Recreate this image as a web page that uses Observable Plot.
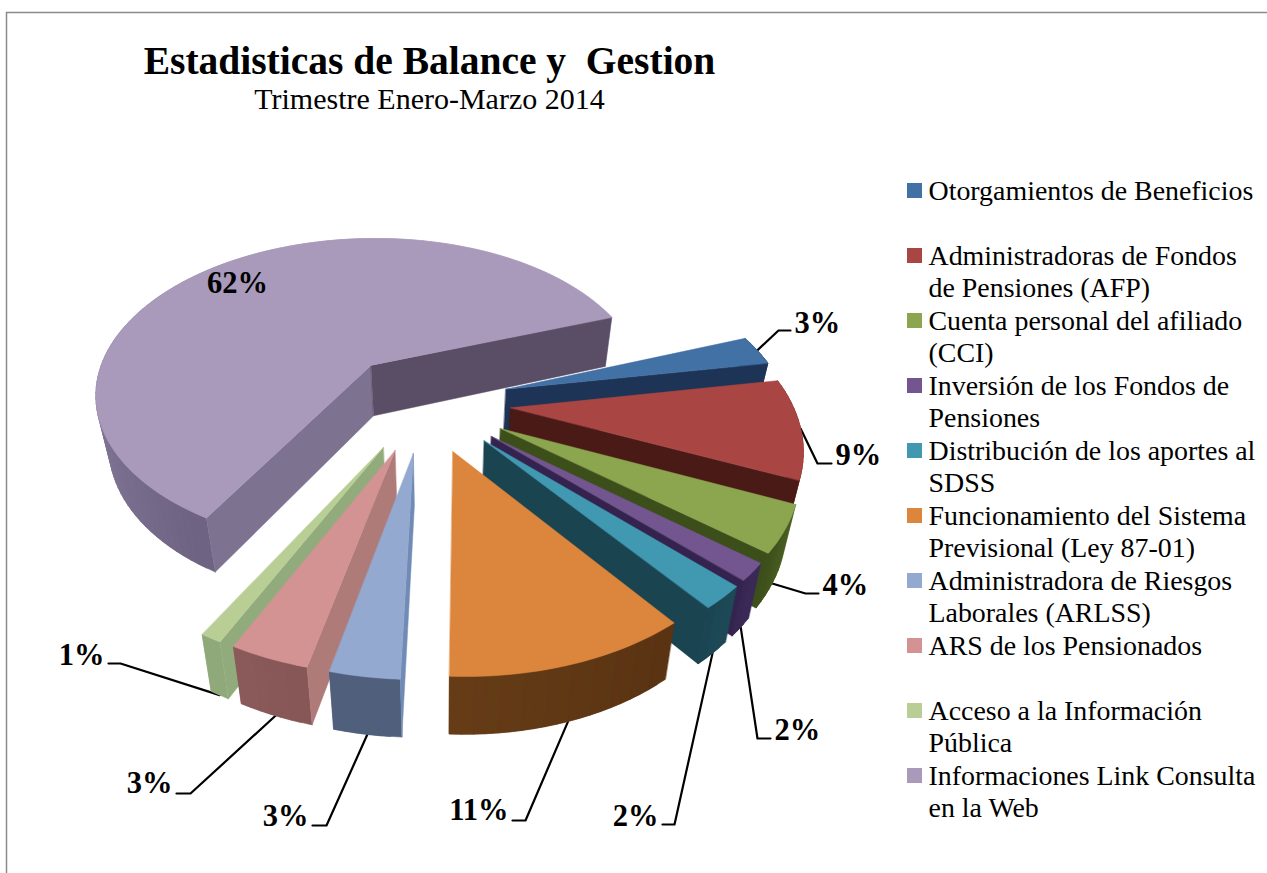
<!DOCTYPE html>
<html lang="es">
<head>
<meta charset="utf-8">
<script src="https://cdn.jsdelivr.net/npm/d3@7"></script>
<script src="https://cdn.jsdelivr.net/npm/@observablehq/plot@0.6"></script>
<style>
html,body{margin:0;padding:0;background:#fff;overflow:hidden}
svg{display:block}
</style>
</head>
<body>
<div id="chart"></div>
<script>
// ---- data ----
const titleText = "Estadisticas de Balance y\u00a0 Gestion";
const subtitleText = "Trimestre Enero-Marzo 2014";
const categories = [
  "Otorgamientos de Beneficios",
  "Administradoras de Fondos\nde Pensiones (AFP)",
  "Cuenta personal del afiliado\n(CCI)",
  "Inversión de los Fondos de\nPensiones",
  "Distribución de los aportes al\nSDSS",
  "Funcionamiento del Sistema\nPrevisional (Ley 87-01)",
  "Administradora de Riesgos\nLaborales (ARLSS)",
  "ARS de los Pensionados",
  "Acceso a la Información\nPública",
  "Informaciones Link Consulta\nen la Web"
];
// slice shares
const values = [2.83, 9.39, 4.31, 1.61, 2.14, 10.97, 3.11, 3.56, 0.97, 61.11];
// the printed data labels
const percentLabels = ["3%", "9%", "4%", "2%", "2%", "11%", "3%", "3%", "1%", "62%"];

// ---- colours ----
const topColors  = ["#4271a6","#a94643","#8ca64f","#73568f","#4099b0","#dc853c","#93a9d0","#d29392","#b8ce94","#a99abc"];
const wallColors = ["#1d3457","#4a1a16","#3c4f1b","#35234f","#1b4451","#5c3614","#708cb6","#ae7b78","#92ab7d","#7d7290"];
const wallColors2 = {9: "#5a4e66"};
const rimFrom    = ["#1d3457","#7c2f2c","#4a5e22","#3a2857","#1d4856","#5a3313","#4f5f7c","#875757","#8fa97b","#6e6383"];
const rimTo      = ["#1d3457","#7c2f2c","#3c4f1b","#35234f","#1b4451","#663d16","#4f5f7c","#8a5b5a","#8fa97b","#d9cbe8"];

// ---- 3-D pie projection (world unit = pie radius) ----
const startAngle = 20, explode = 0.304;
const vanishX = 400, horizonY = -482, depthK = 4802, spreadK = 1530;
const centerX = 0.086, centerV = 5.437;
const rad = d => d * Math.PI / 180;
const project = (X, V) => [vanishX + spreadK * X / V, horizonY + depthK / V];
const lower = ([x, y]) => [440 + (x - 440) * 0.962, y + 30 + 0.024 * (y - horizonY)];

// slices: angles run clockwise from the start angle
let running = startAngle;
const total = d3.sum(values);
const slices = values.map((v, i) => {
  const a0 = running, a1 = running - v / total * 360;
  running = a1;
  const mid = rad((a0 + a1) / 2);
  return {i, v, a0, a1, ax: centerX + explode * Math.cos(mid), av: centerV + explode * Math.sin(mid)};
});
const rimPoint = (s, deg) => project(s.ax + Math.cos(rad(deg)), s.av + Math.sin(rad(deg)));
const apexPoint = s => project(s.ax, s.av);
const arcAngles = (a0, a1, step) => {
  const n = Math.max(2, Math.ceil(Math.abs(a0 - a1) / step));
  return d3.range(n + 1).map(k => a0 + (a1 - a0) * k / n);
};

// faces, back to front
const faces = [];
const addFace = (id, color, pts) => pts.forEach(([x, y]) => faces.push({id, color, x, y}));
const order = [9, 0, 1, 2, 3, 4, 5, 8, 7, 6];
for (const i of order) {
  const s = slices[i];
  // outer rim in narrow strips so the shading can vary; each overlaps the next to hide seams
  const angles = arcAngles(s.a0, s.a1, 2);
  const shade = d3.interpolateRgb(rimFrom[i], rimTo[i]);
  const last = angles.length - 1;
  for (let k = last - 1; k >= 0; k--) {
    const t = rimPoint(s, angles[k]), u = rimPoint(s, angles[Math.min(k + 2, last)]);
    addFace(`rim-${i}-${k}`, shade(k / Math.max(1, last - 1)), [t, u, lower(u), lower(t)]);
  }
  // straight cut walls that face the viewer
  const apex = apexPoint(s);
  const wall = (deg, color, tag) => {
    const e = rimPoint(s, deg);
    addFace(`wall-${i}-${tag}`, color, [apex, e, lower(e), lower(apex)]);
  };
  if (Math.cos(rad(s.a0)) < 0) wall(s.a0, wallColors[i], "a");
  if (Math.cos(rad(s.a1)) > 0) wall(s.a1, wallColors2[i] || wallColors[i], "b");
  // top surface
  addFace(`top-${i}`, topColors[i], [apex, ...arcAngles(s.a0, s.a1, 1).map(d => rimPoint(s, d))]);
}

// ---- percentage labels & leaders ----
const leaderX  = [790, 831, 818, 770, 662, 512, 312, 176, 108, null];
const leaderY  = [330, 463, 593, 738, 824, 820, 825, 793, 663, null];
const leaderDX = [ 12, 14, 13, 13, -12, -13, -14, -14, -12, 0];
const labelRaise = [7, 8, 8, 8, 8, 10, 9, 10, 8, 0];
const leaders = [];
const rightLabels = [], leftLabels = [], innerLabels = [];
slices.forEach(s => {
  const text = percentLabels[s.i];
  if (leaderX[s.i] == null) {
    innerLabels.push({text, x: 237, y: 283});
    return;
  }
  const midDeg = (s.a0 + s.a1) / 2;
  const top = rimPoint(s, midDeg);
  const from = Math.sin(rad(midDeg)) > -0.2 ? top : lower(top);
  const endX = leaderX[s.i], endY = leaderY[s.i], dx = leaderDX[s.i];
  [from, [endX - dx, endY], [endX, endY]].forEach(([x, y]) => leaders.push({id: s.i, x, y}));
  (dx > 0 ? rightLabels : leftLabels).push({text, x: endX + Math.sign(dx) * 4, y: endY - labelRaise[s.i]});
});

// ---- legend ----
const legendTop = 183, legendStep = 65, swatch = 15;
const legendRows = categories.map((name, i) => ({
  name, color: topColors[i],
  y1: legendTop + i * legendStep, y2: legendTop + i * legendStep + swatch
}));

const serif = "'Liberation Serif','Times New Roman',serif";
const labelStyle = {x: "x", y: "y", text: "text", fill: "#000", fontSize: 30.5, fontWeight: "bold", fontFamily: serif};
const plot = Plot.plot({
  width: 1267, height: 873,
  margin: 0,
  x: {domain: [0, 1267], range: [0, 1267], axis: null},
  y: {domain: [0, 873], range: [0, 873], axis: null},
  color: {type: "identity"},
  style: {background: "#fff", fontFamily: serif},
  marks: [
    Plot.ruleY([12], {x1: 6, x2: 1267, stroke: "#8a8a8a", strokeWidth: 1.5}),
    Plot.ruleX([6],  {y1: 12, y2: 873, stroke: "#8a8a8a", strokeWidth: 1.5}),
    Plot.line(leaders, {x: "x", y: "y", z: "id", stroke: "#000", strokeWidth: 2.2, curve: "linear"}),
    Plot.line(faces, {x: "x", y: "y", z: "id", fill: "color", stroke: "color", strokeWidth: 0.5, curve: "linear-closed"}),
    Plot.text(rightLabels, {...labelStyle, textAnchor: "start"}),
    Plot.text(leftLabels, {...labelStyle, textAnchor: "end"}),
    Plot.text(innerLabels, {...labelStyle, textAnchor: "middle"}),
    Plot.text([titleText], {x: 429, y: 61, text: d => d, fontSize: 39.5, fontWeight: "bold", fill: "#000", fontFamily: serif}),
    Plot.text([subtitleText], {x: 429, y: 99, text: d => d, fontSize: 30, fill: "#000", fontFamily: serif}),
    Plot.rect(legendRows, {x1: 907, x2: 922, y1: "y1", y2: "y2", fill: "color"}),
    Plot.text(legendRows, {x: 928, y: "y1", text: "name", textAnchor: "start", lineAnchor: "top", lineHeight: 1.147, dy: -6, fontSize: 27.9, fill: "#000", fontFamily: serif})
  ]
});
document.getElementById("chart").appendChild(plot);
</script>
</body>
</html>
